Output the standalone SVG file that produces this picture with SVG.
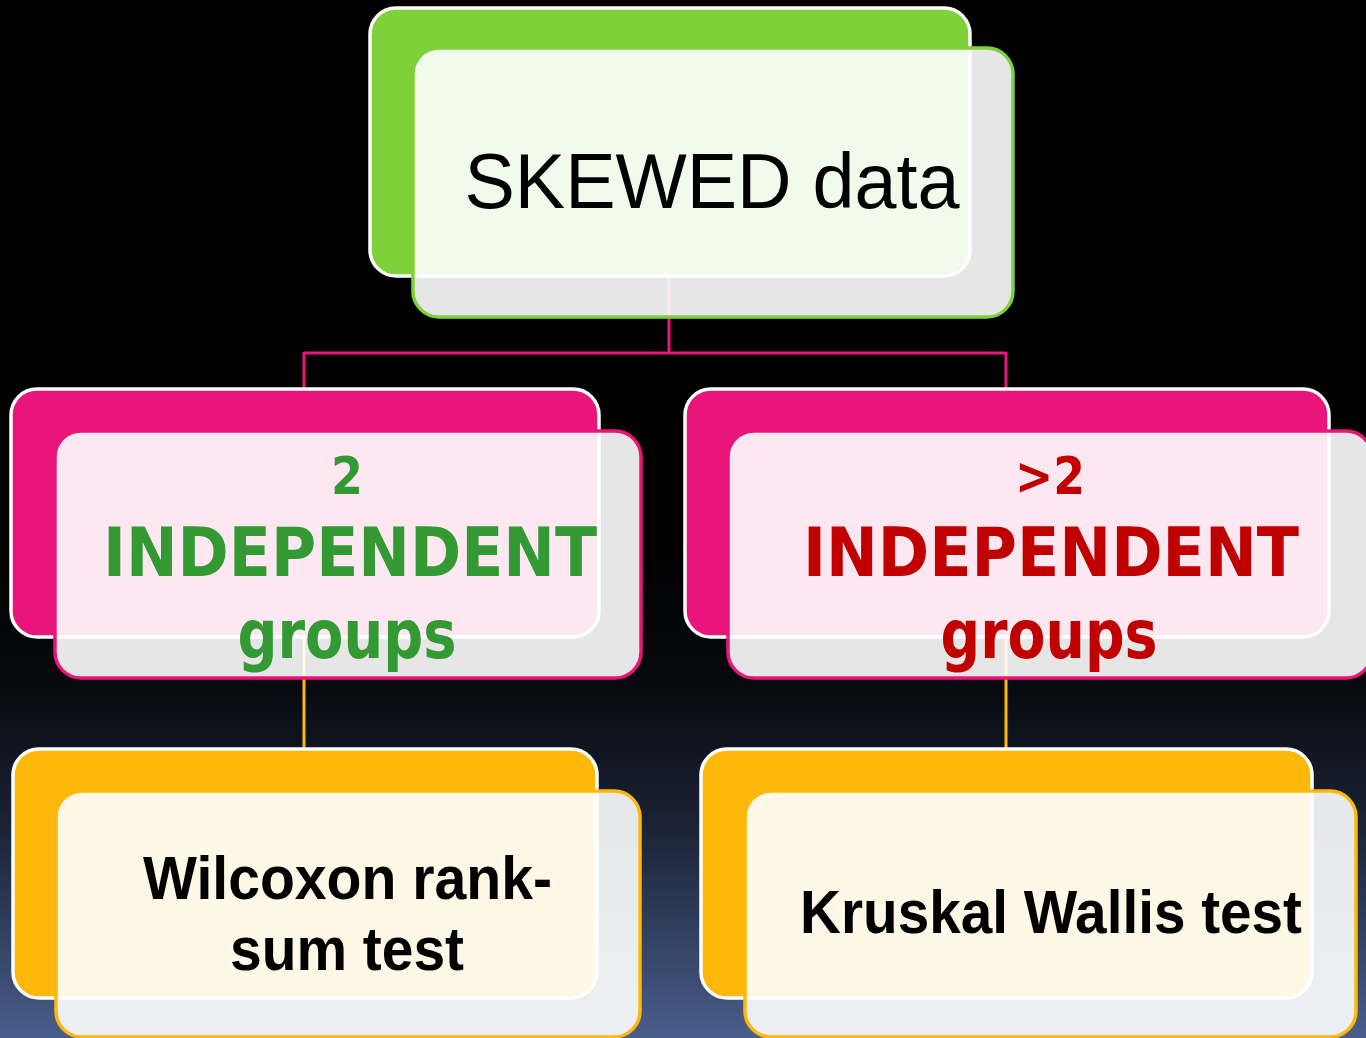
<svg xmlns="http://www.w3.org/2000/svg" width="1366" height="1038" viewBox="0 0 1366 1038">
<defs>
<linearGradient id="bg" x1="0" y1="0" x2="0" y2="1">
<stop offset="0" stop-color="#000000"/>
<stop offset="0.52" stop-color="#000000"/>
<stop offset="0.66" stop-color="#07090E"/>
<stop offset="0.8" stop-color="#1B2436"/>
<stop offset="1" stop-color="#4A5E8C"/>
</linearGradient>
<style>
.back{stroke:#FFFFFF;stroke-width:3.5}
.front{fill:#FFFFFF;fill-opacity:0.9;stroke-width:3.5}
.green{fill:#7FD13B}
.pink{fill:#EA157A}
.orange{fill:#FEB80A}
.sg{stroke:#7FD13B}
.sp{stroke:#EA157A}
.so{stroke:#FEB80A}
.conn{fill:none;stroke-width:3}
.t1{font-family:'Liberation Sans',Arial,sans-serif;font-size:77px;fill:#000000;text-anchor:middle}
.tm{font-family:'DejaVu Sans Condensed','DejaVu Sans',sans-serif;font-stretch:condensed;font-weight:bold;text-anchor:middle}
.tb{font-family:'Liberation Sans',Arial,sans-serif;font-weight:bold;font-size:62px;fill:#000000;text-anchor:middle}
</style>
</defs>
<rect x="0" y="0" width="1366" height="1038" fill="url(#bg)"/>
<g id="connectors">
<path class="conn" stroke="#EA157A" d="M669 270 V353 M304 353 H1006 M304 352 V392 M1006 352 V392"/>
<path class="conn" stroke="#FEB80A" d="M304 630 V752 M1006 630 V752"/>
</g>
<g id="node-skewed">
<rect class="back green" x="370" y="8" width="600" height="268" rx="26"/>
<rect class="front sg" x="413" y="48" width="600" height="269" rx="26"/>
<text class="t1" x="712" y="208" textLength="495" lengthAdjust="spacingAndGlyphs">SKEWED data</text>
</g>
<g id="node-2groups">
<rect class="back pink" x="11" y="389" width="588" height="248" rx="26"/>
<rect class="front sp" x="55" y="431" width="586" height="247" rx="26"/>
<text class="tm" fill="#339933" font-size="51" x="347" y="494">2</text>
<text class="tm" fill="#339933" font-size="67" x="350" y="576" textLength="494" lengthAdjust="spacingAndGlyphs">INDEPENDENT</text>
<text class="tm" fill="#339933" font-size="67" x="347" y="658" textLength="219" lengthAdjust="spacingAndGlyphs">groups</text>
</g>
<g id="node-gt2groups">
<rect class="back pink" x="685" y="389" width="644" height="248" rx="26"/>
<rect class="front sp" x="728" y="431" width="644" height="247" rx="26"/>
<text class="tm" fill="#C00000" font-size="51" x="1050" y="494" textLength="70" lengthAdjust="spacingAndGlyphs">&gt;2</text>
<text class="tm" fill="#C00000" font-size="67" x="1051" y="576" textLength="496" lengthAdjust="spacingAndGlyphs">INDEPENDENT</text>
<text class="tm" fill="#C00000" font-size="67" x="1049" y="658" textLength="217" lengthAdjust="spacingAndGlyphs">groups</text>
</g>
<g id="node-wilcoxon">
<rect class="back orange" x="13" y="749" width="584" height="249" rx="26"/>
<rect class="front so" x="56" y="791" width="584" height="246" rx="26"/>
<text class="tb" x="347.5" y="899" textLength="409" lengthAdjust="spacingAndGlyphs">Wilcoxon rank-</text>
<text class="tb" x="347" y="970" textLength="234" lengthAdjust="spacingAndGlyphs">sum test</text>
</g>
<g id="node-kruskal">
<rect class="back orange" x="701" y="749" width="611" height="249" rx="26"/>
<rect class="front so" x="745" y="791" width="611" height="246" rx="26"/>
<text class="tb" x="1051" y="933" textLength="502" lengthAdjust="spacingAndGlyphs">Kruskal Wallis test</text>
</g>
</svg>
